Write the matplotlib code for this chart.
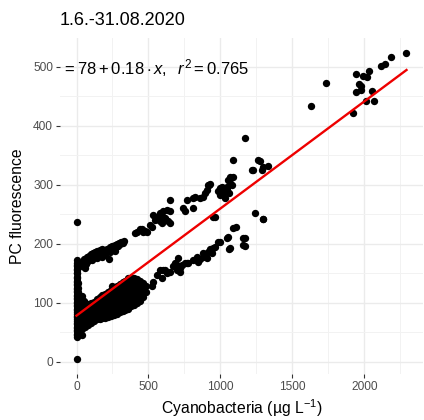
import matplotlib
matplotlib.use("Agg")
import matplotlib.pyplot as plt
import numpy as np

plt.rcParams['font.family'] = ['Liberation Sans', 'DejaVu Sans']
plt.rcParams['mathtext.fontset'] = 'custom'
plt.rcParams['mathtext.rm'] = 'Liberation Sans'
plt.rcParams['mathtext.it'] = 'Liberation Sans:italic'

title = "1.6.-31.08.2020"
x_label = "Cyanobacteria (µg L$^{-1}$)"
y_label = "PC fluorescence"
x_ticks = [0, 500, 1000, 1500, 2000]
y_ticks = [0, 100, 200, 300, 400, 500]
intercept = 78.5
slope = 0.1815
eq_label = r"$= 78 + 0.18\cdot x,\;\ r^{2} = 0.765$"

# vertical streak near x = 0
streak_x = [0, 0, 0, 0, 0, 0, 0, 0, 0, 0, 0, 0, 0, 0, 0, 0, 0, 0, 0, 0, 0, 0, 0,
            6, 6, 6, 6, 6, 6, 6, 6, 6, 6, 6, 6, 6, 6, 6, 6, 6, 6, 6, 6,
            12, 12, 12, 12, 12, 12, 12, 12, 12, 12, 12, 12, 12, 12,
            20, 20, 20, 20, 20, 20, 20, 28, 30, 35, 40, 45, 50, 55]
streak_y = [42, 48, 54, 60, 66, 72, 78, 84, 90, 96, 102, 108, 114, 120, 126, 132, 138, 144, 150, 156, 162, 168, 173,
            45, 52, 58, 64, 70, 76, 82, 88, 94, 100, 106, 112, 118, 124, 130, 136, 142, 150, 158, 165,
            50, 56, 62, 68, 74, 80, 86, 92, 98, 104, 110, 118, 126, 134,
            55, 62, 70, 78, 86, 94, 102, 95, 108, 100, 112, 96, 104, 98]

# upper band (low range)
upper_x = [38, 42, 50, 55, 62, 70, 75, 80, 88, 95, 100, 108, 115, 122, 130, 138, 145, 150, 158, 165,
           172, 180, 188, 195, 200, 210, 218, 228, 232, 240, 250, 258, 265, 272, 280, 288, 295, 305,
           312, 320, 328, 60, 110, 140, 175, 230, 270, 48, 66, 85]
upper_y = [162, 170, 168, 175, 172, 178, 170, 176, 180, 175, 183, 178, 185, 180, 187, 182, 188, 180, 186, 190,
           184, 192, 186, 190, 182, 192, 188, 174, 194, 190, 196, 192, 198, 194, 200, 196, 202, 200,
           204, 202, 205, 160, 172, 176, 178, 186, 188, 165, 166, 172]

# lower dense band
lower_x = [40, 40, 40, 40, 40, 40,
           60, 60, 60, 60, 60, 60,
           80, 80, 80, 80, 80,
           100, 100, 100, 100, 100,
           120, 120, 120, 120, 120,
           140, 140, 140, 140, 140, 140,
           160, 160, 160, 160, 160, 160,
           180, 180, 180, 180, 180, 180,
           200, 200, 200, 200, 200, 200,
           220, 220, 220, 220, 220, 220,
           240, 240, 240, 240, 240, 240, 240,
           260, 260, 260, 260, 260, 260, 260,
           280, 280, 280, 280, 280, 280, 280,
           300, 300, 300, 300, 300, 300, 300,
           320, 320, 320, 320, 320, 320, 320,
           340, 340, 340, 340, 340, 340, 340,
           360, 360, 360, 360, 360, 360, 360,
           380, 380, 380, 380, 380, 380,
           400, 400, 400, 400, 400, 400,
           420, 420, 420, 420, 420,
           440, 440, 440, 440,
           460, 460, 460,
           480, 480, 38, 250]
lower_y = [56, 64, 72, 80, 88, 97,
           60, 68, 76, 84, 92, 100,
           63, 72, 81, 90, 99,
           66, 74, 83, 92, 100,
           70, 78, 86, 94, 102,
           72, 79, 86, 93, 100, 106,
           72, 80, 88, 96, 103, 110,
           74, 82, 90, 98, 106, 114,
           75, 83, 91, 100, 108, 116,
           76, 84, 92, 101, 110, 118,
           78, 85, 92, 100, 108, 115, 122,
           80, 87, 94, 102, 110, 117, 124,
           82, 89, 96, 104, 112, 120, 128,
           84, 92, 100, 108, 116, 124, 132,
           86, 94, 102, 110, 119, 128, 136,
           88, 96, 104, 113, 122, 130, 138,
           90, 98, 107, 116, 125, 134, 142,
           94, 103, 112, 121, 131, 142,
           96, 105, 114, 124, 133, 142,
           100, 110, 120, 130, 140,
           104, 115, 126, 137,
           110, 121, 133,
           118, 129, 46, 128]

# scattered points at higher concentrations
scatter_x = [406, 418, 441, 453, 462, 476, 488, 510, 522, 533, 545, 557, 568, 580, 580, 592, 603, 603,
             615, 622, 626, 637, 649, 649, 649, 742, 753, 765, 811, 811, 823, 858, 880, 892, 904, 915,
             922, 927, 950, 962, 985, 997, 997, 1009, 1019, 1031, 1031, 1043, 1043, 1054, 1061, 1066,
             1078, 1085, 1066, 1217, 1286, 1240, 1297, 1089, 1170, 1228, 1263, 1274, 1293, 1330,
             533, 557, 580, 592, 603, 615, 626, 649, 672, 684, 696, 707, 719, 731, 753, 765, 776,
             811, 835, 846, 858, 880, 880, 904, 915, 927, 939, 950, 962, 985, 997, 1043, 1054, 1061,
             1066, 1089, 1108, 1158, 1158, 1170, 1170, 1297, 522, 696, 719,
             1628, 1733, 1918, 1941, 1941, 1960, 1976, 1980, 1992, 2020, 2029, 2015, 2054, 2066,
             2115, 2142, 2186, 2293, 0, 0]
scatter_y = [219, 221, 225, 225, 221, 222, 221, 232, 229, 249, 241, 246, 243, 252, 238, 235, 255, 246,
             244, 241, 258, 238, 275, 235, 255, 261, 255, 275, 261, 277, 280, 277, 280, 286, 292, 300,
             300, 301, 246, 246, 289, 294, 283, 297, 286, 294, 277, 292, 297, 308, 286, 303,
             300, 314, 314, 325, 325, 252, 243, 342, 379, 325, 342, 341, 331, 332,
             136, 147, 156, 142, 156, 156, 150, 153, 162, 167, 156, 176, 159, 164, 167, 168, 168,
             173, 178, 170, 175, 177, 184, 176, 186, 191, 184, 193, 194, 204, 204, 210, 211, 191,
             193, 227, 228, 210, 198, 210, 197, 243, 128, 164, 153,
             433, 473, 422, 488, 457, 471, 468, 460, 484, 482, 493, 443, 459, 442,
             502, 505, 516, 523, 237, 5]

x = np.array(streak_x + upper_x + lower_x + scatter_x, dtype=float)
y = np.array(streak_y + upper_y + lower_y + scatter_y, dtype=float)

W, H = 424, 420
fig = plt.figure(figsize=(W / 100, H / 100), dpi=100)
left, right, bottom, top = 60, 423, 374.3, 38
ax = fig.add_axes([left / W, (H - bottom) / H, (right - left) / W, (bottom - top) / H])

xmin, xmax = x.min(), x.max()
ymin, ymax = y.min(), y.max()
xr, yr = xmax - xmin, ymax - ymin
ax.set_xlim(xmin - 0.05 * xr, xmax + 0.05 * xr)
ax.set_ylim(ymin - 0.05 * yr, ymax + 0.05 * yr)

for s in ax.spines.values():
    s.set_visible(False)
ax.set_xticks(x_ticks)
ax.set_yticks(y_ticks)
ax.set_xticks([250, 750, 1250, 1750, 2250], minor=True)
ax.set_yticks([50, 150, 250, 350, 450], minor=True)
ax.grid(True, which='major', color='#EBEBEB', lw=1.0)
ax.grid(True, which='minor', color='#F2F2F2', lw=0.7)
ax.set_axisbelow(True)
ax.tick_params(which='major', length=3, width=0.8, color='#333333', labelcolor='#4D4D4D', labelsize=8.6, pad=2)
ax.tick_params(which='minor', length=0)

ax.scatter(x, y, s=28, color='black', linewidths=0, zorder=2)
xl = np.array([xmin, xmax])
ax.plot(xl, intercept + slope * xl, color='#EE0000', lw=1.7, zorder=3)

ax.text(0.006, 0.893, eq_label, transform=ax.transAxes, fontsize=12, color='black',
        ha='left', va='baseline', clip_on=True)

ax.set_xlabel(x_label, fontsize=11.3, labelpad=3)
ax.set_ylabel(y_label, fontsize=11.3, labelpad=6)
fig.text(left / W, 1 - 25 / H, title, fontsize=13, ha='left', va='baseline')

fig.savefig("out.png", dpi=100)
